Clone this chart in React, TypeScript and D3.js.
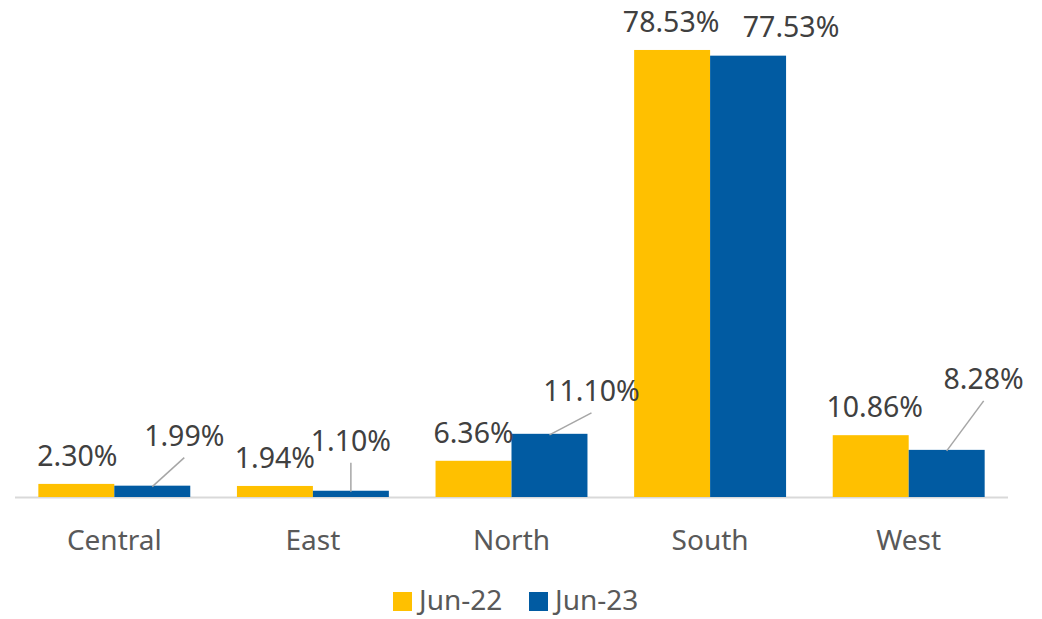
import React from 'react';
import * as d3 from 'd3';

const regions = ['Central', 'East', 'North', 'South', 'West'];
const seriesNames = ['Jun-22', 'Jun-23'];
const jun22 = [2.3, 1.94, 6.36, 78.53, 10.86];
const jun23 = [1.99, 1.1, 11.1, 77.53, 8.28];

// label placement (Excel moved some labels off the bars, with leader lines)
const jun22LabelDx = [1, 0, 0, -1, 4];
const jun23LabelDx = [32, 0, 42, 43, 37];
const jun23LabelDy = [-40, -40, -33, -19, -61];
const jun23Leader = [true, true, true, false, true];

const width = 1042;
const height = 619;
const colors = ['#FFC000', '#015BA2'];
const font = '"Noto Sans", "Open Sans", sans-serif';

const App = () => {
    const x = d3
        .scaleBand<string>()
        .domain(regions)
        .range([15, 1008])
        .paddingInner(0.235)
        .paddingOuter(0.1175);
    const x1 = d3
        .scaleBand<string>()
        .domain(seriesNames)
        .range([0, x.bandwidth()]);
    const y = d3.scaleLinear().domain([0, 80]).range([497, 41.6]);
    const fmt = (v: number) => `${v.toFixed(2)}%`;
    const series = [jun22, jun23];

    return (
        <svg
            width={width}
            height={height}
            style={{ position: 'absolute', left: 0, top: 0, background: '#fff' }}
            fontFamily={font}
        >
            <line x1={15} x2={1008} y1={497.5} y2={497.5} stroke="#D9D9D9" strokeWidth={2} />
            {series.map((vals, si) => (
                <g key={seriesNames[si]} fill={colors[si]}>
                    {vals.map((v, i) => (
                        <rect
                            key={regions[i]}
                            x={(x(regions[i]) ?? 0) + (x1(seriesNames[si]) ?? 0)}
                            y={y(v)}
                            width={x1.bandwidth()}
                            height={y(0) - y(v)}
                        />
                    ))}
                </g>
            ))}
            {/* Jun-22 labels */}
            <g fill="#404040" fontSize={28.5} textAnchor="middle">
                {jun22.map((v, i) => {
                    const cx = (x(regions[i]) ?? 0) + (x1('Jun-22') ?? 0) + x1.bandwidth() / 2;
                    return (
                        <text key={regions[i]} x={cx + jun22LabelDx[i]} y={y(v) - 18}>
                            {fmt(v)}
                        </text>
                    );
                })}
            </g>
            {/* Jun-23 labels with leader lines */}
            <g fill="#404040" fontSize={28.5} textAnchor="middle">
                {jun23.map((v, i) => {
                    const cx = (x(regions[i]) ?? 0) + (x1('Jun-23') ?? 0) + x1.bandwidth() / 2;
                    const lx = cx + jun23LabelDx[i];
                    const ly = y(v) + jun23LabelDy[i];
                    return (
                        <g key={regions[i]}>
                            {jun23Leader[i] && (
                                <line
                                    x1={lx}
                                    y1={ly + 12}
                                    x2={cx}
                                    y2={y(v) + 1}
                                    stroke="#A6A6A6"
                                    strokeWidth={1.5}
                                />
                            )}
                            <text x={lx} y={ly}>
                                {fmt(v)}
                            </text>
                        </g>
                    );
                })}
            </g>
            {/* category axis */}
            <g fill="#595959" fontSize={28} textAnchor="middle">
                {regions.map(r => (
                    <text key={r} x={(x(r) ?? 0) + x.bandwidth() / 2} y={550}>
                        {r}
                    </text>
                ))}
            </g>
            {/* legend */}
            <g fontSize={28} fill="#595959">
                {seriesNames.map((s, i) => (
                    <g key={s} transform={`translate(${393 + i * 136},0)`}>
                        <rect x={0} y={592} width={19} height={19} fill={colors[i]} />
                        <text x={26} y={610}>
                            {s}
                        </text>
                    </g>
                ))}
            </g>
        </svg>
    );
};

export default App;
